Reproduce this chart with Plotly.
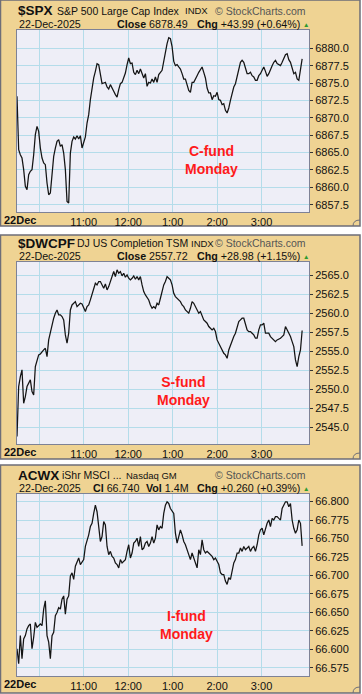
import pandas as pd
import plotly.graph_objects as go

# ---------------- data ----------------
spx_values = [6873.09, 6865.41, 6864.69, 6864.21, 6862.54, 6860.14, 6859.66, 6861.82, 6862.30, 6862.54,
              6864.69, 6867.57, 6868.77, 6868.05, 6865.65, 6864.21, 6863.50, 6863.26, 6860.62, 6858.94,
              6859.18, 6862.54, 6864.45, 6865.65, 6866.61, 6866.85, 6865.89, 6866.13, 6864.93, 6862.54,
              6857.98, 6857.74, 6864.93, 6866.61, 6867.24, 6866.95, 6867.43, 6866.95, 6867.43, 6865.65,
              6866.61, 6867.24, 6869.25, 6870.45, 6872.61, 6874.53, 6875.73, 6876.68, 6877.79, 6877.64,
              6876.44, 6874.91, 6875.01, 6875.10, 6874.43, 6874.14, 6874.77, 6874.14, 6873.81, 6873.33,
              6872.99, 6874.05, 6874.91, 6875.10, 6875.73, 6876.44, 6877.64, 6878.60, 6877.79, 6877.88,
              6876.54, 6876.21, 6876.83, 6876.35, 6877.02, 6876.21, 6875.73, 6876.35, 6874.53, 6875.10,
              6875.01, 6875.58, 6875.10, 6875.87, 6875.10, 6876.21, 6876.54, 6876.83, 6878.12, 6879.56,
              6880.67, 6881.53, 6881.38, 6880.23, 6878.12, 6877.50, 6877.64, 6877.31, 6877.02, 6876.35,
              6875.58, 6875.58, 6874.62, 6873.95, 6873.66, 6875.10, 6875.10, 6875.73, 6876.06, 6876.54,
              6877.02, 6877.31, 6876.54, 6875.73, 6874.29, 6873.57, 6873.57, 6872.61, 6873.18, 6873.09,
              6873.66, 6872.61, 6872.51, 6871.89, 6872.03, 6871.07, 6870.69, 6871.41, 6872.51, 6873.57,
              6874.43, 6874.91, 6876.06, 6877.02, 6877.98, 6878.27, 6877.98, 6877.16, 6876.35, 6876.35,
              6876.54, 6876.06, 6875.87, 6875.39, 6875.39, 6876.06, 6876.35, 6876.83, 6877.31, 6876.68,
              6875.97, 6876.35, 6877.02, 6877.50, 6877.98, 6878.27, 6877.79, 6877.60, 6877.50, 6877.98,
              6878.46, 6879.08, 6879.23, 6878.36, 6877.98, 6877.16, 6876.35, 6876.54, 6875.58, 6875.39,
              6876.92, 6878.49]

dwcpf_values = [2543.74, 2550.33, 2551.65, 2552.53, 2548.13, 2549.01, 2550.33, 2550.77, 2551.21, 2549.67,
                2549.23, 2552.97, 2553.84, 2554.50, 2554.63, 2554.94, 2555.16, 2555.38, 2554.28, 2556.48,
                2557.58, 2558.46, 2559.34, 2560.00, 2560.43, 2559.78, 2559.78, 2559.56, 2559.12, 2557.14,
                2556.04, 2557.36, 2560.43, 2561.09, 2561.31, 2561.53, 2560.87, 2561.09, 2561.31, 2561.23,
                2560.65, 2560.22, 2560.87, 2561.09, 2561.75, 2562.41, 2563.07, 2563.95, 2563.73, 2564.17,
                2564.17, 2563.60, 2563.29, 2563.86, 2563.07, 2563.51, 2564.17, 2564.61, 2565.49, 2564.83,
                2565.71, 2565.27, 2565.49, 2564.92, 2565.27, 2564.74, 2565.05, 2564.61, 2564.39, 2564.61,
                2564.92, 2564.48, 2564.83, 2564.39, 2564.83, 2563.73, 2562.85, 2562.41, 2561.97, 2561.75,
                2561.09, 2560.65, 2560.87, 2560.65, 2561.31, 2561.09, 2561.97, 2562.85, 2563.73, 2564.17,
                2564.83, 2564.61, 2564.39, 2563.73, 2562.63, 2562.19, 2561.97, 2561.75, 2561.53, 2561.09,
                2560.87, 2560.43, 2560.22, 2560.00, 2560.65, 2561.53, 2561.31, 2560.87, 2560.43, 2560.00,
                2560.22, 2559.56, 2559.12, 2558.90, 2558.68, 2558.24, 2558.02, 2557.80, 2558.02, 2557.58,
                2556.48, 2556.04, 2555.38, 2555.16, 2554.72, 2554.50, 2554.06, 2555.16, 2555.82, 2556.48,
                2556.92, 2557.36, 2558.24, 2558.90, 2559.12, 2559.34, 2559.34, 2558.68, 2557.80, 2557.58,
                2557.58, 2557.36, 2557.14, 2556.70, 2556.70, 2557.80, 2558.46, 2558.46, 2558.68, 2557.36,
                2557.36, 2557.36, 2556.92, 2556.70, 2556.57, 2556.26, 2556.48, 2556.57, 2556.70, 2556.92,
                2557.14, 2558.24, 2557.80, 2557.36, 2556.92, 2556.26, 2555.60, 2553.84, 2552.97, 2554.28,
                2555.16, 2557.72]

acwx_values = [66.6007, 66.5806, 66.6185, 66.5873, 66.6141, 66.6185, 66.6275, 66.6320, 66.6342, 66.6007,
               66.6163, 66.6364, 66.6297, 66.6320, 66.6342, 66.6320, 66.6543, 66.6655, 66.6185, 66.6096,
               66.5873, 66.6185, 66.6230, 66.6454, 66.6498, 66.6565, 66.6543, 66.6677, 66.6722, 66.6476,
               66.6677, 66.6722, 66.6990, 66.7035, 66.6945, 66.7124, 66.7191, 66.7236, 66.7147, 66.7191,
               66.7214, 66.7392, 66.7459, 66.7549, 66.7661, 66.7705, 66.7839, 66.7951, 66.7862, 66.7616,
               66.7459, 66.7526, 66.7728, 66.7683, 66.7392, 66.7281, 66.7325, 66.7258, 66.7236, 66.7169,
               66.7147, 66.7102, 66.7214, 66.7169, 66.7191, 66.7214, 66.7325, 66.7415, 66.7236, 66.7303,
               66.7437, 66.7459, 66.7504, 66.7392, 66.7526, 66.7348, 66.7370, 66.7437, 66.7459, 66.7392,
               66.7437, 66.7526, 66.7437, 66.7504, 66.7683, 66.7616, 66.7661, 66.7638, 66.7839, 66.7951,
               66.7996, 66.7974, 66.7906, 66.7862, 66.7839, 66.7571, 66.7437, 66.7526, 66.7616, 66.7549,
               66.7459, 66.7415, 66.7348, 66.7303, 66.7214, 66.7303, 66.7236, 66.7169, 66.7102, 66.7348,
               66.7281, 66.7482, 66.7348, 66.7303, 66.7325, 66.7303, 66.7281, 66.7258, 66.7214, 66.7236,
               66.7191, 66.7147, 66.7035, 66.7012, 66.7012, 66.6923, 66.6878, 66.6968, 66.6945, 66.7079,
               66.7169, 66.7214, 66.7303, 66.7303, 66.7370, 66.7325, 66.7392, 66.7348, 66.7370, 66.7392,
               66.7325, 66.7370, 66.7392, 66.7325, 66.7415, 66.7549, 66.7616, 66.7638, 66.7549, 66.7638,
               66.7705, 66.7750, 66.7661, 66.7772, 66.7750, 66.7795, 66.7795, 66.7772, 66.7750, 66.7906,
               66.7951, 66.7996, 66.7996, 66.7929, 66.7974, 66.7750, 66.7638, 66.7571, 66.7616, 66.7750,
               66.7705, 66.7400]

# sample times: every 135 seconds from the open
times = pd.date_range("2025-12-22 09:30:00", periods=len(spx_values), freq="135s")

spx_ticks = [6857.5, 6860.0, 6862.5, 6865.0, 6867.5, 6870.0, 6872.5, 6875.0, 6877.5, 6880.0]
dwcpf_ticks = [2545.0, 2547.5, 2550.0, 2552.5, 2555.0, 2557.5, 2560.0, 2562.5, 2565.0]
acwx_ticks = [66.575, 66.600, 66.625, 66.650, 66.675, 66.700, 66.725, 66.750, 66.775, 66.800]

hour_ticks = ["2025-12-22 10:00", "2025-12-22 11:00", "2025-12-22 12:00",
              "2025-12-22 13:00", "2025-12-22 14:00", "2025-12-22 15:00"]
hour_labels = ["", "11:00", "12:00", "1:00", "2:00", "3:00"]
x_range = ["2025-12-22 09:30", "2025-12-22 16:04"]

panels = [
    dict(values=spx_values, yrange=[6856.45, 6882.63], ticks=spx_ticks, fmt=".1f",
         note="C-fund<br>Monday", note_xy=(211, 160)),
    dict(values=dwcpf_values, yrange=[2542.76, 2566.75], ticks=dwcpf_ticks, fmt=".1f",
         note="S-fund<br>Monday", note_xy=(183, 391)),
    dict(values=acwx_values, yrange=[66.5638, 66.8102], ticks=acwx_ticks, fmt=".3f",
         note="I-fund<br>Monday", note_xy=(187, 625)),
]

# ---------------- layout geometry (pixels) ----------------
W, H = 362, 694
PLOT_X0, PLOT_X1 = 17, 309
plot_tops = [30, 262, 494]
PLOT_H = 182
panel_boxes = [(0, 226), (235, 459), (465, 693)]

TAN = "#EFD393"
PLOTBG = "#EEEEF7"
GRID = "#B4DCEA"
BORDER = "#7E8296"
FONT = "Liberation Sans, Arial, sans-serif"


def px(x):
    return x / W


def py(y):
    return 1 - y / H


fig = go.Figure()
shapes = []
annotations = []

for i, p in enumerate(panels):
    top = plot_tops[i]
    bot = top + PLOT_H
    xa = "x" if i == 0 else f"x{i + 1}"
    ya = "y" if i == 0 else f"y{i + 1}"
    fig.add_trace(go.Scatter(x=times, y=p["values"], mode="lines",
                             line=dict(color="#141414", width=1.25),
                             xaxis=xa, yaxis=ya, showlegend=False, hoverinfo="skip"))
    xkey = "xaxis" if i == 0 else f"xaxis{i + 1}"
    ykey = "yaxis" if i == 0 else f"yaxis{i + 1}"
    fig.layout[xkey] = dict(domain=[px(PLOT_X0), px(PLOT_X1)], anchor=ya, type="date",
                            range=x_range, tickvals=hour_ticks, ticktext=hour_labels,
                            showgrid=True, gridcolor=GRID, gridwidth=1, ticks="",
                            showline=True, linecolor=BORDER, linewidth=1, mirror=True,
                            tickfont=dict(family=FONT, size=11, color="#111"), zeroline=False)
    fig.layout[ykey] = dict(domain=[py(bot), py(top)], anchor=xa, side="right",
                            range=p["yrange"], tickvals=p["ticks"], tickformat=p["fmt"],
                            showgrid=True, gridcolor=GRID, gridwidth=1,
                            ticks="outside", ticklen=3, tickcolor="#333",
                            showline=True, linecolor=BORDER, linewidth=1, mirror=True,
                            tickfont=dict(family=FONT, size=11, color="#111"), zeroline=False)
    # panel background + plot background
    b0, b1 = panel_boxes[i]
    shapes.append(dict(type="rect", xref="paper", yref="paper", x0=px(0.5), x1=px(360),
                       y0=py(b1), y1=py(b0), fillcolor=TAN, line=dict(color="#6E6E78", width=1.5),
                       layer="below"))
    shapes.append(dict(type="rect", xref="paper", yref="paper", x0=px(PLOT_X0), x1=px(PLOT_X1),
                       y0=py(bot), y1=py(top), fillcolor=PLOTBG, line=dict(width=0), layer="below"))
    # small page-curl mark at the panel's lower right corner
    shapes.append(dict(type="path", xref="paper", yref="paper",
                       path=(f"M {px(353)} {py(b1)} Q {px(353)} {py(b1 - 6)} {px(360)} {py(b1 - 6)}"),
                       line=dict(color="#6E6E78", width=1), layer="above"))
    # fund note
    nx, ny = p["note_xy"]
    annotations.append(dict(xref="paper", yref="paper", x=px(nx), y=py(ny), text=f"<b>{p['note']}</b>",
                            showarrow=False, xanchor="center", yanchor="middle",
                            font=dict(family=FONT, size=14, color="#FF1A1A")))
    # day label
    annotations.append(dict(xref="paper", yref="paper", x=px(2), y=py(bot + 8), text="<b>22Dec</b>",
                            showarrow=False, xanchor="left", yanchor="middle",
                            font=dict(family=FONT, size=11, color="#111")))


def txt(x, y, text, size=11, color="#111", anchor="left"):
    annotations.append(dict(xref="paper", yref="paper", x=px(x), y=py(y), text=text,
                            showarrow=False, xanchor=anchor, yanchor="middle",
                            font=dict(family=FONT, size=size, color=color)))


headers = [
    [(16, "<b>$SPX</b>", 13.5), (55, "S&P 500 Large Cap Index", 10.5), (183, "INDX", 9.5)],
    [(16, "<b>$DWCPF</b>", 13.5), (75, "DJ US Completion TSM", 10.5), (189, "INDX", 9.5)],
    [(16, "<b>ACWX</b>", 13.5), (60, "iShr MSCI ...", 10.5), (124, "Nasdaq GM", 9.5)],
]
datelines = [
    [(17, "22-Dec-2025"), (115, "<b>Close</b> 6878.49"), (195, "<b>Chg</b> +43.99 (+0.64%)")],
    [(17, "22-Dec-2025"), (115, "<b>Close</b> 2557.72"), (195, "<b>Chg</b> +28.98 (+1.15%)")],
    [(17, "22-Dec-2025"), (91, "<b>Cl</b> 66.740"), (144, "<b>Vol</b> 1.4M"),
     (195, "<b>Chg</b> +0.260 (+0.39%)")],
]

for i in range(3):
    top = plot_tops[i]
    for x, t, s in headers[i]:
        txt(x, top - 19, t, size=s)
    txt(308, top - 19, "© StockCharts.com", size=10.5, color="#555", anchor="right")
    for x, t in datelines[i]:
        txt(x, top - 6, t, size=10.7)
    txt(305.5, top - 6, "▲", size=6.5, color="#2E9A2E", anchor="center")

fig.update_layout(width=W, height=H, margin=dict(l=0, r=0, t=0, b=0),
                  paper_bgcolor="white", plot_bgcolor="rgba(0,0,0,0)",
                  shapes=shapes, annotations=annotations, showlegend=False)

fig.write_html("out.html", config={"displayModeBar": False},
               post_script="document.body.style.margin='0';document.body.style.overflow='hidden';")
